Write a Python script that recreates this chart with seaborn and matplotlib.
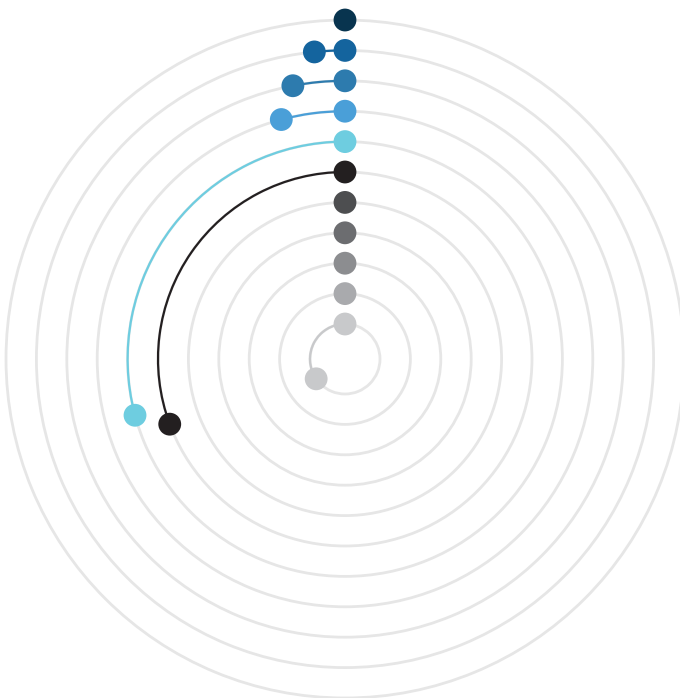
import numpy as np
import pandas as pd
import matplotlib
matplotlib.use('Agg')
import matplotlib.pyplot as plt
import seaborn as sns

# one ring per series, outermost first; value = angle travelled (degrees, counter-clockwise from top)
series = ['s1', 's2', 's3', 's4', 's5', 's6', 's7', 's8', 's9', 's10', 's11']
ring = [11, 10, 9, 8, 7, 6, 5, 4, 3, 2, 1]
angle_deg = [0, 5.7, 10.8, 14.9, 105.0, 110.4, 0, 0, 0, 0, 124.5]
colors = ['#08344f', '#14649e', '#2d7bae', '#4a9fd8', '#6ecde0', '#231f20',
          '#4d4e50', '#6c6d70', '#8c8d90', '#a9aaad', '#c8c9cb']

df = pd.DataFrame({'series': series, 'r': ring, 'deg': angle_deg})
df['theta'] = np.deg2rad(df['deg'])

sns.set_style('white')
fig = plt.figure(figsize=(6.8, 6.98), dpi=100)

# axes placed so that the rings land where the reference has them
cx, cy = 345 / 680, (698 - 359) / 698
rmin, rmax = -0.151, 11.2
step_px = 30.4
R = step_px * (rmax - rmin)
ax = fig.add_axes([cx - R / 680, cy - R / 698, 2 * R / 680, 2 * R / 698], projection='polar')
ax.set_theta_zero_location('N')
ax.set_theta_direction(1)
ax.set_ylim(rmin, rmax)
ax.set_yticks(ring)
ax.set_xticks([])
ax.set_yticklabels([])
ax.yaxis.grid(True, color='#e6e6e6', linewidth=2.0)
ax.xaxis.grid(False)
ax.spines['polar'].set_visible(False)
ax.set_facecolor('none')

# arcs from the start (top) to each end point
for _, row in df.iterrows():
    if row['deg'] > 0:
        c = colors[series.index(row['series'])]
        line, = ax.plot([0, row['theta']], [row['r'], row['r']], color=c, linewidth=1.6, zorder=2)
        line.get_path()._interpolation_steps = 180  # draw along the ring, not as a chord

pal = dict(zip(series, colors))
start = df.assign(theta=0.0)
sns.scatterplot(data=start, x='theta', y='r', hue='series', palette=pal, s=270,
                edgecolor='none', legend=False, ax=ax, zorder=3, clip_on=False)
sns.scatterplot(data=df[df['deg'] > 0], x='theta', y='r', hue='series', palette=pal, s=270,
                edgecolor='none', legend=False, ax=ax, zorder=3, clip_on=False)
ax.set_xlabel('')
ax.set_ylabel('')

fig.savefig('out.png', dpi=100)
